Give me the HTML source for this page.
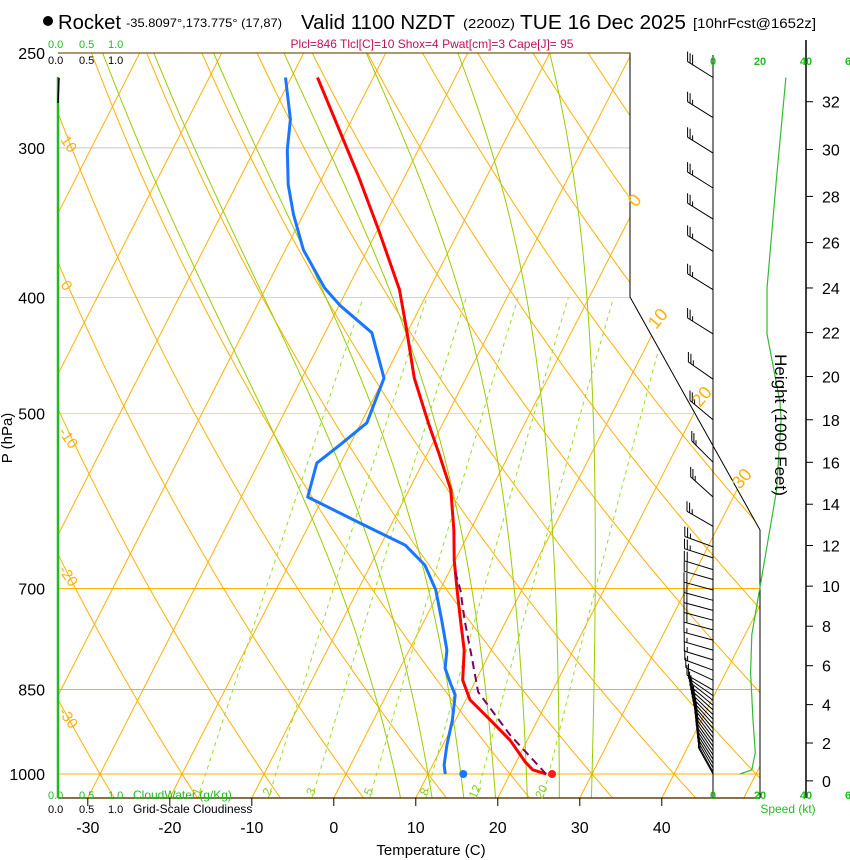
<!DOCTYPE html>
<html><head><meta charset="utf-8"><style>
body{margin:0;background:#fff;}
svg{display:block;font-family:"Liberation Sans",Arial,sans-serif;}
</style></head><body>
<svg id="chart" width="850" height="860" viewBox="0 0 850 860" xmlns="http://www.w3.org/2000/svg" style="position:absolute;left:0;top:0">
<defs><clipPath id="clipPlot"><polygon points="58,53 630,53 630,297 760,530 760,798 58,798"/></clipPath></defs>
<g id="header">
<circle cx="48" cy="21" r="5" fill="#000"/>
<text x="58" y="29" font-size="20" textLength="63" lengthAdjust="spacingAndGlyphs">Rocket</text>
<text x="126" y="27" font-size="12" textLength="156" lengthAdjust="spacingAndGlyphs">-35.8097°,173.775° (17,87)</text>
<text x="301" y="29" font-size="20" textLength="154" lengthAdjust="spacingAndGlyphs">Valid 1100 NZDT</text>
<text x="463" y="28" font-size="13" textLength="52" lengthAdjust="spacingAndGlyphs">(2200Z)</text>
<text x="520" y="29" font-size="20" textLength="166" lengthAdjust="spacingAndGlyphs">TUE 16 Dec 2025</text>
<text x="693" y="28" font-size="14" textLength="123" lengthAdjust="spacingAndGlyphs">[10hrFcst@1652z]</text>
<text x="432" y="48" font-size="12" fill="#c0105a" text-anchor="middle">Plcl=846 Tlcl[C]=10 Shox=4 Pwat[cm]=3 Cape[J]= 95</text>
</g>
<g id="grid" clip-path="url(#clipPlot)"></g>
<g id="frame"></g>
<g id="profiles" clip-path="url(#clipPlot)"></g>
<g id="wind"></g>
<g id="labels"></g>
<g>
<text x="48" y="48" font-size="11" fill="#22bb22">0.0</text><text x="79" y="48" font-size="11" fill="#22bb22">0.5</text><text x="108" y="48" font-size="11" fill="#22bb22">1.0</text>
<text x="48" y="64" font-size="11">0.0</text><text x="79" y="64" font-size="11">0.5</text><text x="108" y="64" font-size="11">1.0</text>
</g>
<g>
<text x="48" y="799" font-size="11" fill="#22bb22">0.0</text><text x="79" y="799" font-size="11" fill="#22bb22">0.5</text><text x="108" y="799" font-size="11" fill="#22bb22">1.0</text>
<text x="133" y="799" font-size="12" fill="#22bb22">CloudWater (g/Kg)</text>
<text x="48" y="813" font-size="11">0.0</text><text x="79" y="813" font-size="11">0.5</text><text x="108" y="813" font-size="11">1.0</text>
<text x="133" y="813" font-size="12">Grid-Scale Cloudiness</text>
</g>
<g fill="#22bb22" font-size="11" font-weight="bold" text-anchor="middle">
<text x="713" y="65">0</text><text x="760" y="65">20</text><text x="806" y="65">40</text><text x="848" y="65">6</text>
<text x="713" y="799">0</text><text x="760" y="799">20</text><text x="806" y="799">40</text><text x="848" y="799">6</text>
</g>
<text x="788" y="813" font-size="12" fill="#22bb22" text-anchor="middle">Speed (kt)</text>
<text x="431" y="855" font-size="15" text-anchor="middle">Temperature (C)</text>
<text x="0" y="0" font-size="15" text-anchor="middle" transform="translate(12,438) rotate(-90)">P (hPa)</text>
<text x="0" y="0" font-size="17" text-anchor="middle" transform="translate(775,425) rotate(90)">Height (1000 Feet)</text>
<g fill="#ffb000" font-size="15">
<text transform="translate(60,140) rotate(55)">10</text>
<text transform="translate(60,285) rotate(55)">0</text>
<text transform="translate(58,432) rotate(55)">-10</text>
<text transform="translate(58,570) rotate(55)">-20</text>
<text transform="translate(58,712) rotate(55)">-30</text>
</g>
<g fill="#ffb000" font-size="18">
<text transform="translate(636,208) rotate(-50)">0</text>
<text transform="translate(656,330) rotate(-50)">10</text>
<text transform="translate(700,408) rotate(-50)">20</text>
<text transform="translate(740,490) rotate(-50)">30</text>
</g>
</svg>
<script>
// ---- data ----
const tempP = [262,316,351,394,426,467,511,541,579,626,663,702,744,788,835,867,901,937,977,992,1000];
const tempT = [-46.8,-35.8,-29.9,-23.6,-20.2,-16.3,-11.6,-8.5,-4.9,-2.0,-0.1,2.1,4.4,6.7,8.4,10.5,14.2,17.9,21.1,22.5,24.4];
const dewP = [262,284,301,322,341,365,393,406,428,467,509,531,550,587,616,644,669,702,744,788,816,843,859,901,946,983,1000];
const dewT = [-50.7,-47.5,-46.0,-43.7,-41.2,-37.8,-32.8,-29.9,-24.3,-20.0,-19.3,-21.2,-22.9,-21.9,-14.2,-7.0,-3.4,-0.5,2.1,4.6,5.5,7.3,8.4,9.6,10.5,11.4,12.1];
const parcelP = [1000,928,854,803,744,702,676];
const parcelT = [24.4,17.6,11.0,8.3,4.9,2.5,0.6];
const surfaceT = 25.0;
const surfaceTd = 14.3;
const isotherms = [-120,-110,-100,-90,-80,-70,-60,-50,-40,-30,-20,-10,0,10,20,30,40,50,60];
const dryAdiabats = [-40,-30,-20,-10,0,10,20,30,40,50,60,70,80,90,100,110,120,130,140,150,160,170];
const moistAdiabats = [6,10,14,18,22,26,30];
const mixRatios = [1,2,3,5,8,12,20];
const mixLabels = ["1","2","3","5","8","12","20"];
const pressureTicks = [250,300,400,500,700,850,1000];
const tempTicks = [-30,-20,-10,0,10,20,30,40];
const heightTicks = [0,2,4,6,8,10,12,14,16,18,20,22,24,26,28,30,32];
const speedP = [262,318,393,429,489,506,580,698,765,823,901,960,992,1000];
const speedKt = [31,27,23,23,28.5,29,27,20,16.5,16,17,18,16.5,11.5];
const windP = [262,283,303,324,344,366,394,429,468,506,549,587,621,646,660,675,688,702,716,730,744,758,773,788,803,819,835,851,860,868,876,884,892,900,908,916,924,932,940,948,956,964,972,980,988,996,1000];
const windSpd = [28,27,27,26,26,25,25,23,25,27,27,26,25,25,24,22,21,20,20,19,18,18,17,17,17,17,17,17,17,17,17,17,18,18,18,18,18,18,18,18,18,17,17,16,15,13,11];
const windDir = [302,302,302,302,302,302,302,302,305,310,315,312,300,290,288,287,286,285,285,285,285,285,285,286,287,290,295,300,305,308,310,312,314,316,318,320,322,323,324,325,326,327,328,329,330,331,331];

// ---- axes ----
const NS='http://www.w3.org/2000/svg';
function yP(p){return 774-520*Math.log(1000/p);}
function xT(T,p){return 333.8+8.2*T+0.51*(798-yP(p));}
function xSpd(s){return 713+s*2.35;}
function mk(tag,attrs,parent){const e=document.createElementNS(NS,tag);for(const k in attrs)e.setAttribute(k,attrs[k]);parent.appendChild(e);return e;}
function pathFrom(pts){return pts.map((q,i)=>(i?'L':'M')+q[0].toFixed(1)+','+q[1].toFixed(1)).join(' ');}
const grid=document.getElementById('grid');
const frame=document.getElementById('frame');
const prof=document.getElementById('profiles');
const wind=document.getElementById('wind');
const lab=document.getElementById('labels');

pressureTicks.forEach(p=>{
  const y=yP(p);
  let col='#ffb000',x2=760;
  if(p===300){col='#c8c8c8';x2=630;}
  if(p===400||p===500){col='#ffd27a';x2=760;}
  if(p===250)return;
  const l=mk('line',{x1:58,y1:y,x2:x2,y2:y,stroke:col,'stroke-width':1},grid);
  
  
});
isotherms.forEach(T=>{
  const l=mk('line',{x1:xT(T,1050),y1:yP(1050),x2:xT(T,240),y2:yP(240),stroke:'#ffb000','stroke-width':1},grid);
  
  
});
dryAdiabats.forEach(th=>{
  const pts=[];
  for(let p=1050;p>=240;p-=10){const T=(th+273.15)*Math.pow(p/1000,0.2857)-273.15;pts.push([xT(T,p),yP(p)]);}
  const e=mk('path',{d:pathFrom(pts),fill:'none',stroke:'#ffb000','stroke-width':1},grid);
  
  
});
function es(T){return 6.112*Math.exp(17.67*T/(T+243.5));}
function dTdp(T,p){const Tk=T+273.15;const rs=0.622*es(T)/(p-es(T));return (287*Tk+2.5e6*rs)/(p*(1005+2.5e6*2.5e6*rs*0.622/(287*Tk*Tk)));}
moistAdiabats.forEach(tw=>{
  const up=[];let T=tw;
  for(let p=1000;p>=240;p-=2){up.push([xT(T,p),yP(p)]);T-=dTdp(T,p)*2;}
  const dn=[];T=tw;
  for(let p=1000;p<=1050;p+=2){dn.push([xT(T,p),yP(p)]);T+=dTdp(T,p)*2;}
  const pts=dn.reverse().concat(up);
  const e=mk('path',{d:pathFrom(pts),fill:'none',stroke:'#99cc00','stroke-width':1},grid);
  
  
});
function tdW(w,p){const e=w*p/(622+w);const a=Math.log(e/6.112);return 243.5*a/(17.67-a);}
mixRatios.forEach((w,i)=>{
  const pts=[];for(let p=1050;p>=400;p-=10)pts.push([xT(tdW(w,p),p),yP(p)]);
  const e=mk('path',{d:pathFrom(pts),fill:'none',stroke:'#99dd22','stroke-width':1,'stroke-dasharray':'4,4'},grid);
  
  
  const lx=xT(tdW(w,1030),1030), ly=yP(1030)+4;
  const t=mk('text',{x:lx,y:ly,'font-size':12,fill:'#88cc22',transform:'rotate(-65 '+lx+' '+ly+')','text-anchor':'middle'},lab);
  t.textContent=mixLabels[i];
  
  
});

let f=mk('polyline',{points:'58,53 630,53 630,297 760,530 760,798',fill:'none',stroke:'#000','stroke-width':1},frame);


f=mk('line',{x1:58,y1:53,x2:630,y2:53,stroke:'#7a5a10','stroke-width':1.2},frame);


f=mk('line',{x1:58,y1:798,x2:760,y2:798,stroke:'#604010','stroke-width':1.5},frame);


f=mk('line',{x1:58,y1:77,x2:58,y2:798,stroke:'#22bb22','stroke-width':2.5},frame);


f=mk('line',{x1:59,y1:78,x2:58,y2:103,stroke:'#000','stroke-width':1.5},frame);


f=mk('line',{x1:713,y1:55,x2:713,y2:798,stroke:'#000','stroke-width':1},frame);


f=mk('line',{x1:806,y1:40,x2:806,y2:798,stroke:'#000','stroke-width':1.5},frame);



pressureTicks.forEach(p=>{
  const t=mk('text',{x:45,y:yP(p)+6,'font-size':16,'text-anchor':'end'},lab);
  t.textContent=p;
  
  
});
tempTicks.forEach(T=>{
  const x=333.8+8.2*T;
  const l=mk('line',{x1:x,y1:798,x2:x,y2:806,stroke:'#000'},lab);
  
  
  const t=mk('text',{x:x,y:833,'font-size':16,'text-anchor':'middle'},lab);
  t.textContent=T;
  
  
});
function pH(ft){return 1013.25*Math.pow(1-6.8756e-6*ft,5.2559);}
heightTicks.forEach(h=>{
  const y=yP(pH(h*1000));
  const l=mk('line',{x1:806,y1:y,x2:813,y2:y,stroke:'#000'},lab);
  
  
  const t=mk('text',{x:822,y:y+6,'font-size':16},lab);
  t.textContent=h;
  
  
});

let e=mk('path',{d:pathFrom(tempP.map((p,i)=>[xT(tempT[i],p),yP(p)])),fill:'none',stroke:'#ff0000','stroke-width':3,'stroke-linejoin':'round'},prof);


e=mk('path',{d:pathFrom(dewP.map((p,i)=>[xT(dewT[i],p),yP(p)])),fill:'none',stroke:'#1a75ff','stroke-width':3,'stroke-linejoin':'round'},prof);


e=mk('path',{d:pathFrom(parcelP.map((p,i)=>[xT(parcelT[i],p),yP(p)])),fill:'none',stroke:'#800060','stroke-width':2,'stroke-dasharray':'8,5'},prof);


e=mk('circle',{cx:xT(surfaceT,1000)+1,cy:yP(1000),r:4,fill:'#ff1a1a'},lab);


e=mk('circle',{cx:xT(surfaceTd,1000),cy:yP(1000),r:4,fill:'#1a75ff'},lab);



e=mk('path',{d:pathFrom(speedP.map((p,i)=>[xSpd(speedKt[i]),yP(p)])),fill:'none',stroke:'#33bb33','stroke-width':1.2},wind);


windP.forEach((p,i)=>{
  const bx=713,by=yP(p);
  const a=windDir[i]*Math.PI/180;
  const ux=Math.sin(a),uy=-Math.cos(a);
  const L=30;
  const tx=bx+ux*L,ty=by+uy*L;
  let d='M'+bx+','+by.toFixed(1)+' L'+tx.toFixed(1)+','+ty.toFixed(1);
  const fx=0,fy=-1;
  let s=Math.round(windSpd[i]/5)*5;let k=0;
  while(s>=10){const sx=tx-ux*k*3,sy=ty-uy*k*3;d+=' M'+sx.toFixed(1)+','+sy.toFixed(1)+' l'+(fx*10).toFixed(1)+','+(fy*10).toFixed(1);s-=10;k++;}
  if(s>=5){const sx=tx-ux*k*3,sy=ty-uy*k*3;d+=' M'+sx.toFixed(1)+','+sy.toFixed(1)+' l'+(fx*5).toFixed(1)+','+(fy*5).toFixed(1);}
  const b=mk('path',{d:d,fill:'none',stroke:'#000','stroke-width':1},wind);
  
  
});
</script>
</body></html>
